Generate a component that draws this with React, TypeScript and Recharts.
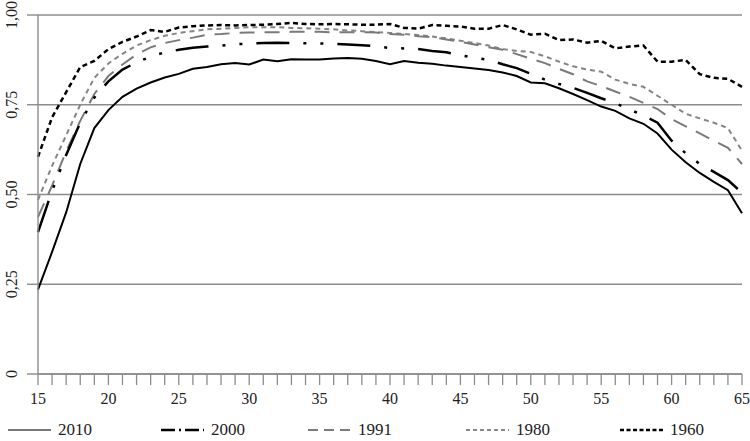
import { LineChart, Line, XAxis, YAxis, CartesianGrid } from "recharts";

// age 15..65
const AGES = [
  15, 16, 17, 18, 19, 20, 21, 22, 23, 24, 25, 26, 27, 28, 29, 30, 31, 32, 33, 34, 35, 36, 37, 38, 39, 40,
  41, 42, 43, 44, 45, 46, 47, 48, 49, 50, 51, 52, 53, 54, 55, 56, 57, 58, 59, 60, 61, 62, 63, 64, 65,
];

const Y2010 = [
  0.235, 0.34, 0.45, 0.585, 0.685, 0.735, 0.772, 0.795, 0.812, 0.826, 0.836, 0.85, 0.855, 0.863, 0.866,
  0.862, 0.876, 0.871, 0.877, 0.876, 0.876, 0.879, 0.88, 0.878, 0.872, 0.863, 0.872, 0.867, 0.864, 0.859,
  0.855, 0.851, 0.847, 0.84, 0.83, 0.812, 0.81, 0.796, 0.78, 0.763, 0.745, 0.733, 0.712, 0.697, 0.67,
  0.625, 0.59, 0.56, 0.535, 0.512, 0.448,
];

const Y2000 = [
  0.395, 0.51, 0.61, 0.7, 0.77, 0.815, 0.848, 0.868, 0.884, 0.896, 0.903, 0.909, 0.912, 0.915, 0.918,
  0.921, 0.922, 0.923, 0.922, 0.921, 0.921, 0.92, 0.918, 0.916, 0.913, 0.908, 0.907, 0.905, 0.9, 0.896,
  0.888, 0.881, 0.875, 0.863, 0.852, 0.836, 0.82, 0.808, 0.797, 0.783, 0.768, 0.755, 0.737, 0.72, 0.7,
  0.65, 0.615, 0.585, 0.563, 0.54, 0.505,
];

const Y1991 = [
  0.437, 0.525, 0.62, 0.705, 0.78, 0.83, 0.862, 0.89, 0.91, 0.922, 0.93, 0.937, 0.945, 0.947, 0.95,
  0.951, 0.952, 0.952, 0.953, 0.953, 0.953, 0.952, 0.952, 0.952, 0.951, 0.947, 0.945, 0.941, 0.938, 0.932,
  0.925, 0.918, 0.91, 0.903, 0.891, 0.878, 0.866, 0.85, 0.835, 0.815, 0.802, 0.787, 0.772, 0.755, 0.738,
  0.71, 0.69, 0.67, 0.65, 0.63, 0.585,
];

const Y1980 = [
  0.485, 0.58, 0.665, 0.75, 0.825, 0.865, 0.892, 0.915, 0.93, 0.942, 0.95, 0.955, 0.96, 0.962, 0.964,
  0.966, 0.966, 0.966, 0.964, 0.963, 0.962, 0.96, 0.957, 0.955, 0.952, 0.95, 0.947, 0.944, 0.94, 0.935,
  0.928, 0.922, 0.915, 0.905, 0.9, 0.897, 0.885, 0.87, 0.857, 0.848, 0.842, 0.82, 0.808, 0.8, 0.775,
  0.75, 0.725, 0.712, 0.7, 0.685, 0.622,
];

const Y1960 = [
  0.605, 0.715, 0.785, 0.855, 0.872, 0.905, 0.925, 0.94, 0.958, 0.953, 0.965, 0.969, 0.971, 0.972, 0.971,
  0.972, 0.973, 0.975, 0.978, 0.975, 0.974, 0.975, 0.974, 0.973, 0.973, 0.975, 0.964, 0.962, 0.972, 0.97,
  0.968, 0.962, 0.962, 0.972, 0.96, 0.945, 0.948, 0.93, 0.932, 0.923, 0.928, 0.907, 0.912, 0.915, 0.87,
  0.87, 0.875, 0.835, 0.825, 0.822, 0.8,
];

const Y_TICKS = [0, 0.25, 0.5, 0.75, 1];
const Y_LABELS = ["0", "0,25", "0,50", "0,75", "1,00"];

const FONT = "'Liberation Serif', 'DejaVu Serif', serif";
const GRID = "#8c8c8c";

const data = AGES.map((age, i) => ({
  age,
  y2010: Y2010[i],
  y2000: Y2000[i],
  y1991: Y1991[i],
  y1980: Y1980[i],
  y1960: Y1960[i],
}));

// legend entries (legend sample styles differ slightly from the plotted lines, as in the source)
const LEGEND = [
  { label: "2010", x: 8, stroke: "#777", dash: undefined, w: 2 },
  { label: "2000", x: 161, stroke: "#000", dash: "14 4 2 4", w: 2.5 },
  { label: "1991", x: 308, stroke: "#7a7a7a", dash: "10 6", w: 2 },
  { label: "1980", x: 466, stroke: "#888", dash: "4 3", w: 2 },
  { label: "1960", x: 620, stroke: "#000", dash: "4 2.5", w: 2.5 },
];

function XTick(props: any) {
  const { x, y, payload } = props;
  if (payload.value % 5 !== 0) return <g />;
  return (
    <text x={x} y={y + 17} textAnchor="middle" fontFamily={FONT} fontSize={16} fill="#222">
      {payload.value}
    </text>
  );
}

function YTick(props: any) {
  const { y, payload } = props;
  const idx = Y_TICKS.indexOf(payload.value);
  return (
    <text
      x={17}
      y={y}
      transform={`rotate(-90, 17, ${y})`}
      textAnchor="middle"
      fontFamily={FONT}
      fontSize={16}
      fill="#222"
    >
      {Y_LABELS[idx]}
    </text>
  );
}

export default function App() {
  return (
    <div style={{ position: "absolute", left: 0, top: 0, width: 750, height: 441, background: "#fff" }}>
      <LineChart width={750} height={441} data={data} margin={{ top: 15, right: 8, left: 0, bottom: 37 }}>
        <CartesianGrid vertical={false} stroke={GRID} strokeWidth={1.4} />
        <XAxis
          dataKey="age"
          type="number"
          domain={[15, 65]}
          ticks={AGES}
          interval={0}
          height={30}
          tickSize={11}
          stroke={GRID}
          tickLine={{ stroke: GRID, strokeWidth: 1.3 }}
          axisLine={{ stroke: GRID, strokeWidth: 1.4 }}
          tick={<XTick />}
        />
        <YAxis
          type="number"
          domain={[0, 1]}
          ticks={Y_TICKS}
          width={38}
          tickSize={11}
          tickLine={{ stroke: GRID, strokeWidth: 1.4 }}
          axisLine={{ stroke: GRID, strokeWidth: 1.4 }}
          tick={<YTick />}
        />
        <Line
          dataKey="y1960"
          type="linear"
          stroke="#000"
          strokeWidth={2.5}
          strokeDasharray="5 3.5"
          dot={false}
          isAnimationActive={false}
        />
        <Line
          dataKey="y1980"
          type="linear"
          stroke="#858585"
          strokeWidth={2}
          strokeDasharray="5 4"
          dot={false}
          isAnimationActive={false}
        />
        <Line
          dataKey="y1991"
          type="linear"
          stroke="#7a7a7a"
          strokeWidth={2}
          strokeDasharray="15 10"
          dot={false}
          isAnimationActive={false}
        />
        <Line
          dataKey="y2000"
          type="linear"
          stroke="#000"
          strokeWidth={2.5}
          strokeDasharray="33 14 3 14 3 14"
          dot={false}
          isAnimationActive={false}
        />
        <Line dataKey="y2010" type="linear" stroke="#000" strokeWidth={2} dot={false} isAnimationActive={false} />
      </LineChart>

      {/* Legend */}
      <svg width={750} height={28} style={{ position: "absolute", left: 0, top: 412 }}>
        {LEGEND.map((l) => (
          <g key={l.label}>
            <line x1={l.x} x2={l.x + 43} y1={18} y2={18} stroke={l.stroke} strokeWidth={l.w} strokeDasharray={l.dash} />
            <text x={l.x + 50} y={23} fontFamily={FONT} fontSize={17} fill="#222">
              {l.label}
            </text>
          </g>
        ))}
      </svg>
    </div>
  );
}
